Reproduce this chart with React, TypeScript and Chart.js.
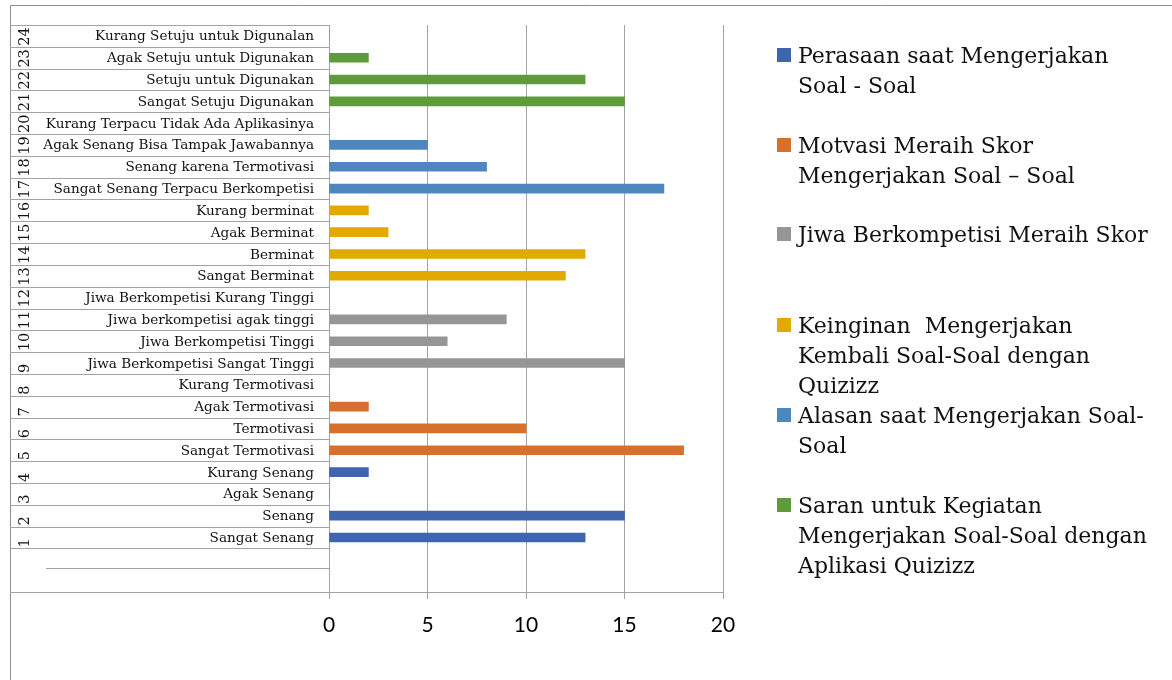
import React, { useEffect, useRef } from "react";
import { Chart, registerables } from "chart.js";

Chart.register(...registerables);

// ---- DATA ----
const categories = [
  "Sangat Senang",
  "Senang",
  "Agak Senang",
  "Kurang Senang",
  "Sangat Termotivasi",
  "Termotivasi",
  "Agak Termotivasi",
  "Kurang Termotivasi",
  "Jiwa Berkompetisi Sangat Tinggi",
  "Jiwa Berkompetisi Tinggi",
  "Jiwa berkompetisi agak tinggi",
  "Jiwa Berkompetisi Kurang Tinggi",
  "Sangat Berminat",
  "Berminat",
  "Agak Berminat",
  "Kurang berminat",
  "Sangat Senang Terpacu Berkompetisi",
  "Senang karena Termotivasi",
  "Agak Senang Bisa Tampak Jawabannya",
  "Kurang Terpacu Tidak Ada Aplikasinya",
  "Sangat Setuju Digunakan",
  "Setuju untuk Digunakan",
  "Agak Setuju untuk Digunakan",
  "Kurang Setuju untuk Digunalan",
];
const categoryNumbers = [
  "1", "2", "3", "4", "5", "6", "7", "8", "9", "10", "11", "12",
  "13", "14", "15", "16", "17", "18", "19", "20", "21", "22", "23", "24",
];

const perasaanValues = [13, 15, 0, 2];
const motivasiValues = [18, 10, 2, 0];
const jiwaValues = [15, 6, 9, 0];
const keinginanValues = [12, 13, 3, 2];
const alasanValues = [17, 8, 5, 0];
const saranValues = [15, 13, 2, 0];

const seriesNames = [
  "Perasaan saat Mengerjakan Soal - Soal",
  "Motvasi Meraih Skor Mengerjakan Soal – Soal",
  "Jiwa Berkompetisi Meraih Skor",
  "Keinginan  Mengerjakan Kembali Soal-Soal dengan Quizizz",
  "Alasan saat Mengerjakan Soal-Soal",
  "Saran untuk Kegiatan Mengerjakan Soal-Soal dengan Aplikasi Quizizz",
];
const legendLines = [
  ["Perasaan saat Mengerjakan", "Soal - Soal"],
  ["Motvasi Meraih Skor", "Mengerjakan Soal – Soal"],
  ["Jiwa Berkompetisi Meraih Skor"],
  ["Keinginan  Mengerjakan", "Kembali Soal-Soal dengan", "Quizizz"],
  ["Alasan saat Mengerjakan Soal-", "Soal"],
  ["Saran untuk Kegiatan", "Mengerjakan Soal-Soal dengan", "Aplikasi Quizizz"],
];
const seriesColors = ["#3F65AF", "#D6702C", "#969696", "#E2A900", "#4E87BF", "#5F9B3B"];
const seriesValues = [perasaanValues, motivasiValues, jiwaValues, keinginanValues, alasanValues, saranValues];

const xMin = 0;
const xMax = 20;
const xStep = 5;
const blankSlots = 2;

// ---- LAYOUT / STYLE ----
const W = 1172;
const H = 680;
const PLOT_LEFT = 329;
const PLOT_RIGHT = 723;
const PLOT_TOP = 25;
const PLOT_BOTTOM = 592;
const LINE = "#A3A3A3";
const SERIF = "'DejaVu Serif', serif";
const legendBaselines = [63, 153, 242, 333, 423, 513];

const nCat = categories.length;
const slotCount = nCat + blankSlots;
// top-to-bottom: last category first, then blank slots
const yLabels: string[] = [];
for (let i = nCat - 1; i >= 0; i--) yLabels.push(categories[i]);
for (let b = 0; b < blankSlots; b++) yLabels.push(" ".repeat(b + 1));

const slotOf = (catIndex: number) => nCat - 1 - catIndex;

const tablePlugin = {
  id: "tablePlugin",
  afterDraw(chart: any) {
    const ctx = chart.ctx as CanvasRenderingContext2D;
    const ys = chart.scales.y;
    const top = chart.chartArea.top;
    const bottom = chart.chartArea.bottom;
    const left = chart.chartArea.left;
    const slot = (bottom - top) / slotCount;
    ctx.save();
    // outer chart border
    ctx.strokeStyle = "#8F8F8F";
    ctx.lineWidth = 1;
    ctx.beginPath();
    ctx.moveTo(10.5, H);
    ctx.lineTo(10.5, 5.5);
    ctx.lineTo(W, 5.5);
    ctx.stroke();

    // table rows
    ctx.strokeStyle = LINE;
    ctx.beginPath();
    for (let i = 0; i <= nCat; i++) {
      const y = Math.round(top + i * slot) + 0.5;
      ctx.moveTo(10, y);
      ctx.lineTo(left, y);
    }
    const ys2 = Math.round(top + (nCat + 1) * slot) - 1.5;
    ctx.moveTo(46, ys2);
    ctx.lineTo(left, ys2);
    ctx.moveTo(10, Math.round(bottom) + 0.5);
    ctx.lineTo(left, Math.round(bottom) + 0.5);
    ctx.stroke();

    // labels
    ctx.fillStyle = "#111";
    ctx.font = `13.6px ${SERIF}`;
    ctx.textAlign = "right";
    ctx.textBaseline = "middle";
    for (let c = 0; c < nCat; c++) {
      const yc = ys.getPixelForValue(slotOf(c));
      ctx.fillText(categories[c], left - 15, yc + 1);
    }
    // rotated numbers
    ctx.font = `14.5px ${SERIF}`;
    ctx.textAlign = "left";
    ctx.textBaseline = "alphabetic";
    for (let c = 0; c < nCat; c++) {
      const yc = ys.getPixelForValue(slotOf(c));
      const rowBottom = yc + slot / 2;
      ctx.save();
      ctx.translate(29, rowBottom - 1);
      ctx.rotate(-Math.PI / 2);
      ctx.fillText(categoryNumbers[c], 0, 0);
      ctx.restore();
    }

    // legend
    ctx.font = `22px ${SERIF}`;
    ctx.textAlign = "left";
    ctx.textBaseline = "alphabetic";
    for (let s = 0; s < seriesNames.length; s++) {
      const base = legendBaselines[s];
      ctx.fillStyle = seriesColors[s];
      ctx.fillRect(777, base - 15, 14, 14);
      ctx.fillStyle = "#111";
      legendLines[s].forEach((ln, k) => {
        ctx.fillText(ln, 798, base + k * 30);
      });
    }
    ctx.restore();
  },
};

export default function App() {
  const ref = useRef<HTMLCanvasElement | null>(null);
  useEffect(() => {
    if (!ref.current) return;
    const datasets = seriesValues.map((vals, g) => {
      const data: (number | null)[] = new Array(slotCount).fill(null);
      vals.forEach((v, k) => {
        data[slotOf(g * 4 + k)] = v;
      });
      return {
        label: seriesNames[g],
        data,
        backgroundColor: seriesColors[g],
        borderWidth: 0,
        barThickness: 9,
        grouped: false,
      };
    });
    const chart = new Chart(ref.current, {
      type: "bar",
      data: { labels: yLabels, datasets },
      options: {
        indexAxis: "y",
        animation: false,
        responsive: false,
        devicePixelRatio: 1,
        layout: {
          padding: { left: PLOT_LEFT, right: W - PLOT_RIGHT, top: PLOT_TOP, bottom: 0 },
        },
        plugins: { legend: { display: false }, tooltip: { enabled: false } },
        scales: {
          x: {
            min: xMin,
            max: xMax,
            ticks: {
              stepSize: xStep,
              color: "#000",
              font: { family: "Lato", size: 21 },
              padding: 14,
            },
            grid: { color: LINE, tickLength: 7, lineWidth: 1 },
            border: { display: true, color: LINE },
            afterFit: (s: any) => {
              s.height = H - PLOT_BOTTOM;
            },
          },
          y: {
            type: "category",
            ticks: { display: false },
            grid: { display: false, drawTicks: false },
            border: { display: true, color: LINE },
            afterFit: (s: any) => {
              s.width = 0;
            },
          },
        },
      },
      plugins: [tablePlugin],
    } as any);
    return () => chart.destroy();
  }, []);
  return (
    <div style={{ position: "absolute", left: 0, top: 0, width: W, height: H, background: "#fff" }}>
      <canvas ref={ref} width={W} height={H} style={{ display: "block" }} />
    </div>
  );
}
